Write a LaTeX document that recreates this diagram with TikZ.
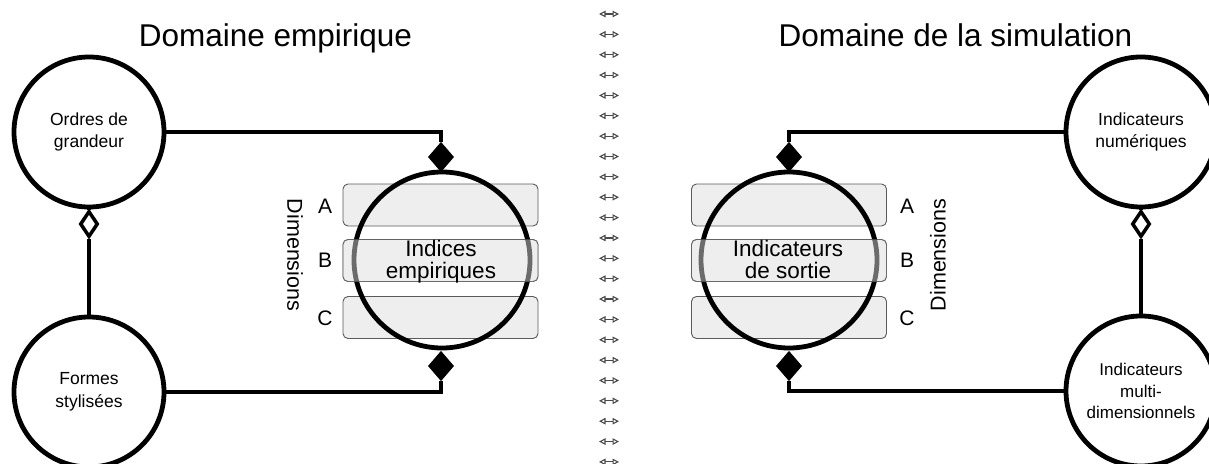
\documentclass[tikz,border=0pt]{standalone}
\usepackage{fontspec}
\setmainfont{Liberation Sans}
\usetikzlibrary{shapes.geometric,arrows.meta}
\definecolor{rectfill}{HTML}{EEEEEE}
\definecolor{rectline}{HTML}{5A5A5A}
\definecolor{sepgray}{HTML}{4A4A4A}
\begin{document}
\begin{tikzpicture}[x=1pt,y=-1pt,
  bigc/.style={circle,draw=black,line width=4.8pt,minimum size=176pt,inner sep=0pt},
  smallc/.style={circle,draw=black,line width=4.8pt,minimum size=150pt,inner sep=0pt,align=center,font=\fontsize{17.5}{22.5}\selectfont},
  dimrect/.style={rectangle,rounded corners=5pt,draw=rectline,line width=0.9pt,fill=rectfill,minimum width=195pt,minimum height=42pt,inner sep=0pt},
  dimrectB/.style={dimrect,fill opacity=0.45,draw opacity=0.6},
  bigtext/.style={align=center,font=\fontsize{22.5}{22}\selectfont,inner sep=0pt},
  lettre/.style={font=\fontsize{21}{24}\selectfont,inner sep=0pt,anchor=base},
  dimlab/.style={font=\fontsize{21.5}{24}\selectfont,inner sep=0pt},
  titre/.style={font=\fontsize{31.5}{36}\selectfont,inner sep=0pt,anchor=base},
  conn/.style={draw=black,line width=4.5pt},
  fdiam/.style={diamond,draw=black,fill=black,line width=1pt,minimum width=25pt,minimum height=29pt,inner sep=0pt},
  odiam/.style={diamond,draw=black,fill=white,line width=3.5pt,minimum width=18pt,minimum height=26pt,inner sep=0pt},
  sepmark/.style={draw=sepgray,line width=1.1pt,{Triangle[open,length=6.5pt,width=6.5pt,line width=1.1pt]}-{Triangle[open,length=6.5pt,width=6.5pt,line width=1.1pt]}}
]
\useasboundingbox (0,0) rectangle (1209,463);

% separator
\foreach \k in {0,...,22} {
  \coordinate (sl\k) at ({609-10},{14+20.36*\k});
  \coordinate (sr\k) at ({609+10},{14+20.36*\k});
  \draw[sepmark] (sl\k) -- (sr\k);
}

% titles
\node[titre] (t1) at (275.5,46) {Domaine empirique};
\node[titre] (t2) at (955.5,46) {Domaine de la simulation};

% dimension rectangles
\node[dimrect] (la) at (440.5,205) {};
\node[dimrect] (lb) at (440.5,260.5) {};
\node[dimrect] (lc) at (440.5,317.5) {};
\node[dimrect] (ra) at (789,205) {};
\node[dimrect] (rb) at (789,260.5) {};
\node[dimrect] (rc) at (789,317.5) {};

% big circles
\node[bigc] (ie) at (442,260) {};
\node[bigc] (is) at (789,260) {};

% B rectangles again, half transparent, over the circles
\node[dimrectB] (lbo) at (lb) {};
\node[dimrectB] (rbo) at (rb) {};

% texts
\node[bigtext] (iet) at (441,262) {Indices\\empiriques};
\node[bigtext] (ist) at (788,259.5) {Indicateurs\\de sortie};

\node[lettre] (lA) at (325,213) {A};
\node[lettre] (lB) at (325,267) {B};
\node[lettre] (lC) at (325,325) {C};
\node[lettre] (rA) at (907,213) {A};
\node[lettre] (rB) at (907,267) {B};
\node[lettre] (rC) at (907,325) {C};
\node[dimlab,rotate=-90] (ldim) at (295,255) {Dimensions};
\node[dimlab,rotate=90] (rdim) at (938,255) {Dimensions};

% small circles
\node[smallc] (og) at (89,132) {Ordres de\\grandeur};
\node[smallc] (fs) at (89,392) {Formes\\stylisées};
\node[smallc] (num) at (1141,132) {Indicateurs\\numériques};
\node[smallc,font=\fontsize{17}{21.5}\selectfont] (multi) at (1141,391) {Indicateurs\\multi-\\dimensionnels};

% diamonds
\node[fdiam] (d1) at (441,157) {};
\node[fdiam] (d2) at (441,366) {};
\node[fdiam] (d3) at (789,157) {};
\node[fdiam] (d4) at (789,366) {};
\node[odiam] (o1) at (89,224) {};
\node[odiam] (o2) at (1141,224) {};

% connectors
\draw[conn] (og.east) -| (d1.north);
\draw[conn] (fs.east) -| (d2.south);
\draw[conn] (num.west) -| (d3.north);
\draw[conn] (multi.west) -| (d4.south);
\draw[conn] (og.south) -- (o1.north);
\draw[conn] (o1.south) -- (fs.north);
\draw[conn] (num.south) -- (o2.north);
\draw[conn] (o2.south) -- (multi.north);
\end{tikzpicture}
\end{document}
